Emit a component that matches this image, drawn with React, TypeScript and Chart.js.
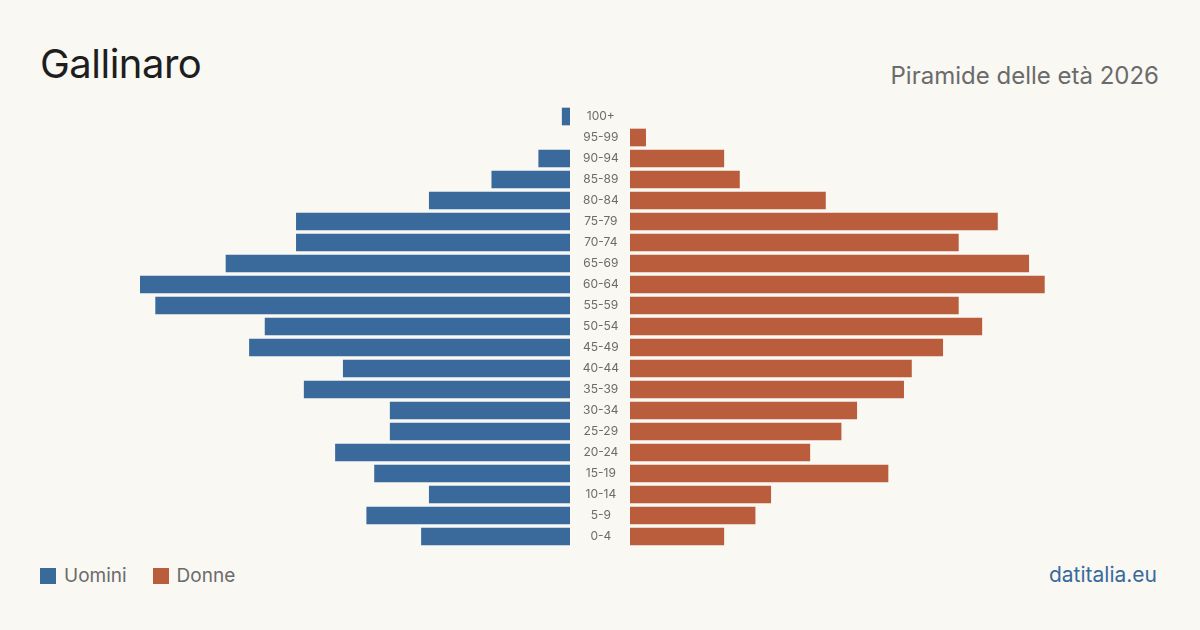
import React, { useEffect, useRef } from "react";
import { Chart, registerables } from "chart.js";

Chart.register(...registerables);

const ageGroups = ["100+", "95-99", "90-94", "85-89", "80-84", "75-79", "70-74", "65-69", "60-64", "55-59", "50-54", "45-49", "40-44", "35-39", "30-34", "25-29", "20-24", "15-19", "10-14", "5-9", "0-4"];
const men = [1, 0, 4, 10, 18, 35, 35, 44, 55, 53, 39, 41, 29, 34, 23, 23, 30, 25, 18, 26, 19];
const women = [0, 2, 12, 14, 25, 47, 42, 51, 53, 42, 45, 40, 36, 35, 29, 27, 23, 33, 18, 16, 12];
const axisMax = 55;

const BLUE = "#3a6a9c";
const ORANGE = "#b95d3d";
const BG = "#f9f8f3";
const FONT = "Inter, 'Noto Sans', sans-serif";

const nz = (arr: number[]) => arr.map((v) => (v === 0 ? null : v));

export default function App() {
  const leftRef = useRef<HTMLCanvasElement>(null);
  const rightRef = useRef<HTMLCanvasElement>(null);

  useEffect(() => {
    const common = {
      indexAxis: "y" as const,
      responsive: false,
      maintainAspectRatio: false,
      animation: false as const,
      layout: { padding: 0 },
      plugins: { legend: { display: false }, tooltip: { enabled: false } },
    };
    const left = new Chart(leftRef.current!, {
      type: "bar",
      data: {
        labels: ageGroups,
        datasets: [{ data: nz(men), backgroundColor: BLUE, barThickness: 17, borderWidth: 0 }],
      },
      options: {
        ...common,
        scales: {
          x: { min: 0, max: axisMax, reverse: true, display: false },
          y: { display: false },
        },
      },
    });
    const right = new Chart(rightRef.current!, {
      type: "bar",
      data: {
        labels: ageGroups,
        datasets: [{ data: nz(women), backgroundColor: ORANGE, barThickness: 17, borderWidth: 0 }],
      },
      options: {
        ...common,
        scales: {
          x: { min: 0, max: axisMax, display: false },
          y: {
            display: true,
            grid: { display: false, drawTicks: false, tickLength: 0 },
            border: { display: false },
            ticks: {
              crossAlign: "center",
              padding: 11,
              color: "#6b6b6b",
              font: { family: FONT, size: 12 },
            },
            afterFit: (scale: any) => {
              scale.width = 60;
              scale.paddingTop = 0;
              scale.paddingBottom = 0;
            },
          },
        },
      },
    });
    return () => {
      left.destroy();
      right.destroy();
    };
  }, []);

  return (
    <div
      style={{
        position: "absolute",
        left: 0,
        top: 0,
        width: 1200,
        height: 630,
        background: BG,
        fontFamily: FONT,
        overflow: "hidden",
      }}
    >
      <div style={{ position: "absolute", left: 40, top: 39, fontSize: 40, color: "#1e1e1e", lineHeight: "50px", letterSpacing: -0.5 }}>
        Gallinaro
      </div>
      <div style={{ position: "absolute", right: 41, top: 61, fontSize: 24, color: "#6b6b6b", lineHeight: "30px" }}>
        Piramide delle età 2026
      </div>
      <canvas
        ref={leftRef}
        width={430}
        height={441}
        style={{ position: "absolute", left: 140, top: 106, width: 430, height: 441 }}
      />
      <canvas
        ref={rightRef}
        width={490}
        height={441}
        style={{ position: "absolute", left: 570, top: 106, width: 490, height: 441 }}
      />
      <div style={{ position: "absolute", left: 40, top: 564, display: "flex", alignItems: "center", fontSize: 19, color: "#6b6b6b", lineHeight: "24px" }}>
        <span style={{ width: 16, height: 16, background: BLUE, display: "inline-block", marginRight: 8 }} />
        <span style={{ marginRight: 26 }}>Uomini</span>
        <span style={{ width: 16, height: 16, background: ORANGE, display: "inline-block", marginRight: 8 }} />
        <span>Donne</span>
      </div>
      <div style={{ position: "absolute", right: 43, top: 562, fontSize: 21, color: "#3a6a9c", lineHeight: "26px" }}>
        datitalia.eu
      </div>
    </div>
  );
}
